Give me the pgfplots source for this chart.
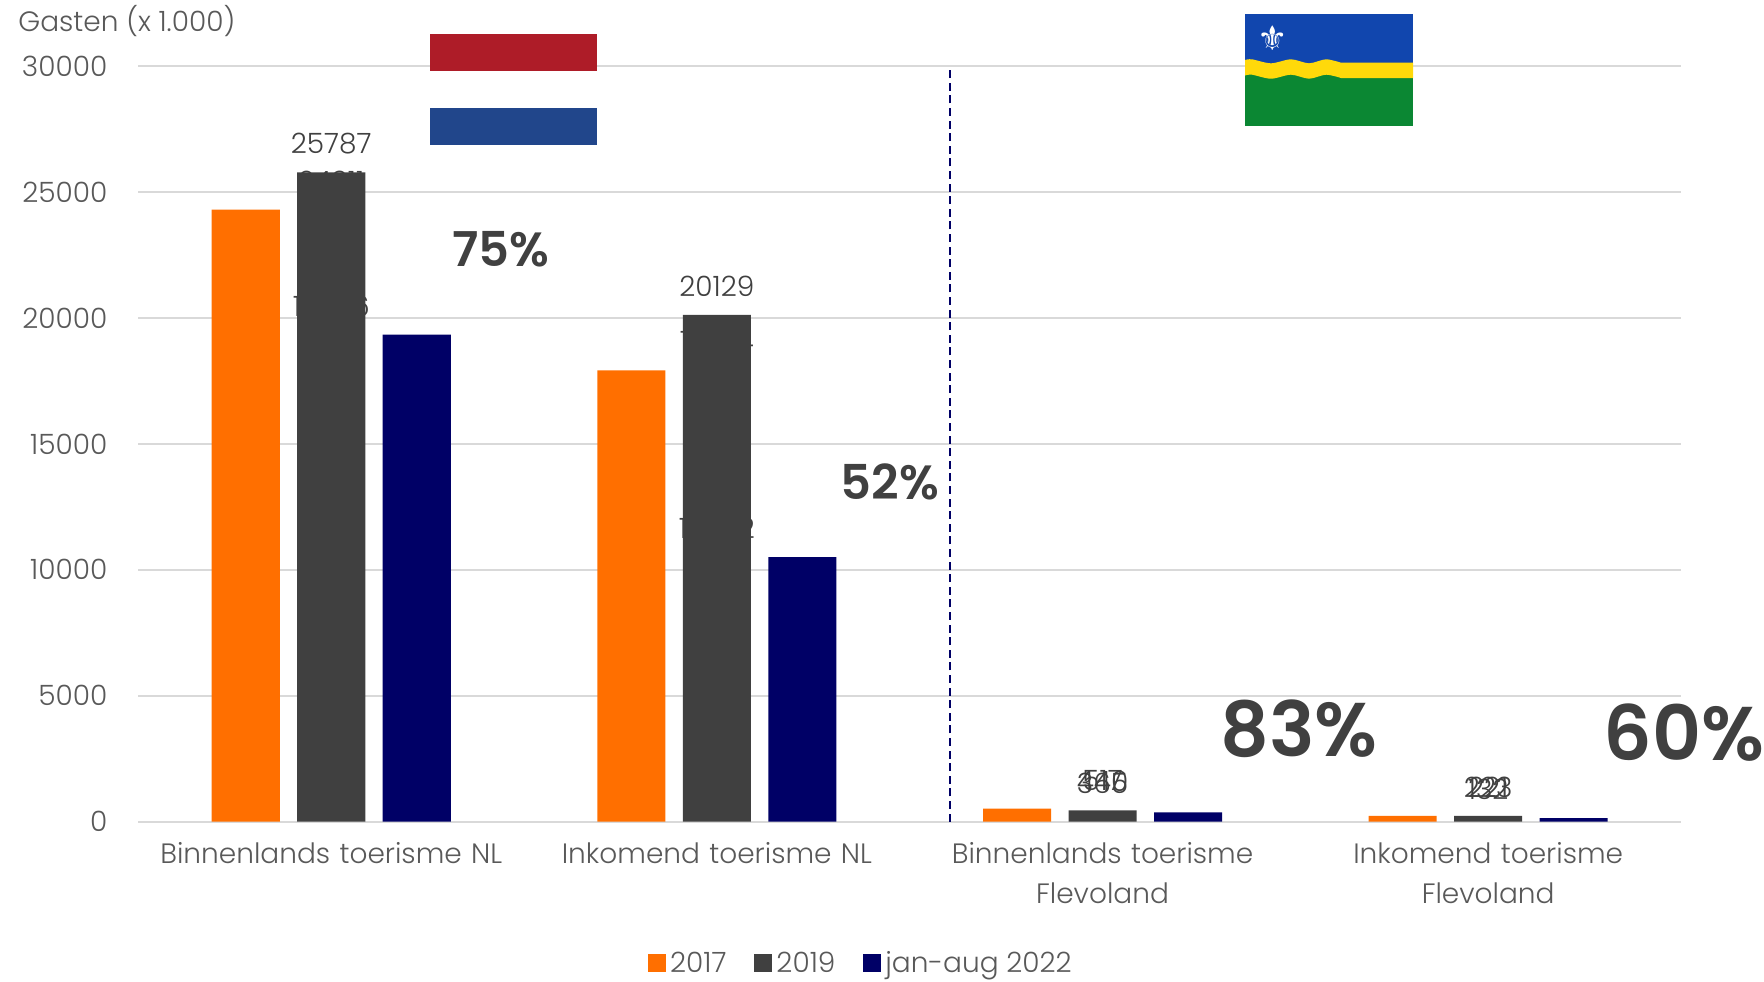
\documentclass[border=0pt]{standalone}
\usepackage{fontspec}
\usepackage{pgfplots}
\pgfplotsset{compat=1.18}
\setmainfont{Poppins Light}
\newfontfamily\boldf{Poppins SemiBold}
\newfontfamily\symf{DejaVu Sans}
\definecolor{orangebar}{HTML}{FF6F00}
\definecolor{darkbar}{HTML}{404040}
\definecolor{navybar}{HTML}{000066}
\definecolor{gridgrey}{HTML}{D9D9D9}
\definecolor{ticktext}{HTML}{595959}
\pgfplotsset{
  mybar/.style={ybar, bar width=0.1765, bar shift=#1, draw=none,
    legend image code/.code={\fill[##1] (0pt,-4.5pt) rectangle (9pt,4.5pt);},
    nodes near coords,
    every node near coord/.append style={font=\fontsize{14}{16}\selectfont, text=darkbar, inner sep=0pt, yshift=9pt}},
}
\begin{document}
\begin{tikzpicture}
\path[use as bounding box] (0,0) rectangle (882pt,-490.5pt);
\begin{axis}[
  at={(69.2pt,-410.75pt)}, anchor=south west,
  scale only axis, width=771.3pt, height=377.55pt,
  xmin=-0.5, xmax=3.5, ymin=0, ymax=30000,
  xtick={0,1,2,3},
  xticklabels={Binnenlands toerisme NL,Inkomend toerisme NL,Binnenlands toerisme\\Flevoland,Inkomend toerisme\\Flevoland},
  ytick={0,5000,10000,15000,20000,25000,30000},
  scaled y ticks=false,
  /pgf/number format/assume math mode=true,
  /pgf/number format/1000 sep={},
  ymajorgrids, major grid style={gridgrey, line width=1pt},
  axis line style={draw=none},
  axis x line*=bottom, axis y line*=left,
  major tick length=0pt,
  tick label style={font=\fontsize{14}{19.7}\selectfont, text=ticktext},
  xticklabel style={align=center, yshift=-7pt, text width=220pt},
  yticklabel style={xshift=-12pt},
  clip=false,
  legend style={at={(0.469,-0.188)}, anchor=center, draw=none, fill=none,
    font=\fontsize{14}{16}\selectfont, text=ticktext, legend columns=3,
    /tikz/every even column/.style={column sep=12pt}},
]
\draw[gridgrey, line width=1pt] (axis cs:-0.5,0) -- (axis cs:3.5,0);
\addplot[mybar=-0.2217, fill=orangebar] coordinates {(0,24311)(1,17924)(2,517)(3,223)};
\addplot[mybar=0, fill=darkbar] coordinates {(0,25787)(1,20129)(2,440)(3,221)};
\addplot[mybar=0.2217, fill=navybar] coordinates {(0,19346)(1,10502)(2,365)(3,132)};
\addplot[navybar, line width=1pt, dash pattern=on 4pt off 2.3pt, forget plot] coordinates {(1.6036,0)(1.6036,29900)};
\legend{2017,2019,jan-aug 2022}
\end{axis}
\begin{scope}[x=0.5pt,y=-0.5pt]
\node[anchor=west, inner sep=0pt, font=\fontsize{14}{16}\selectfont, text=ticktext] at (18,21) {Gasten (x 1.000)};
\fill[fill={rgb,255:red,174;green,28;blue,40}] (430,34) rectangle (597,71.3);
\fill[fill={rgb,255:red,33;green,70;blue,139}] (430,108.3) rectangle (597,145);
\fill[fill={rgb,255:red,17;green,70;blue,174}] (1245,14) rectangle (1413,70);
\fill[fill={rgb,255:red,11;green,135;blue,51}] (1245,70) rectangle (1413,126);
\fill[fill={rgb,255:red,255;green,217;blue,10}] plot[smooth] coordinates {(1245,60)(1252,59.3)(1271,63.3)(1291,59.3)(1309,63.3)(1326,59.3)(1341,62.7)}
  -- (1413,62.7) -- (1413,78) -- (1341,78)
  -- plot[smooth] coordinates {(1341,78)(1326,74.7)(1309,78.7)(1291,74.7)(1271,78.7)(1252,74.7)(1245,75.5)} -- cycle;
\node[inner sep=0pt, text=white, font=\symf\fontsize{17}{17}\selectfont] at (1273,38) {⚜};
\node[font=\boldf\fontsize{24}{24}\selectfont, text=darkbar, inner sep=0pt] at (501,249) {75\%};
\node[font=\boldf\fontsize{24}{24}\selectfont, text=darkbar, inner sep=0pt] at (890,482) {52\%};
\node[font=\boldf\fontsize{38}{38}\selectfont, text=darkbar, inner sep=0pt] at (1299,729) {83\%};
\node[font=\boldf\fontsize{38}{38}\selectfont, text=darkbar, inner sep=0pt] at (1684,733) {60\%};
\end{scope}
\end{tikzpicture}
\end{document}
